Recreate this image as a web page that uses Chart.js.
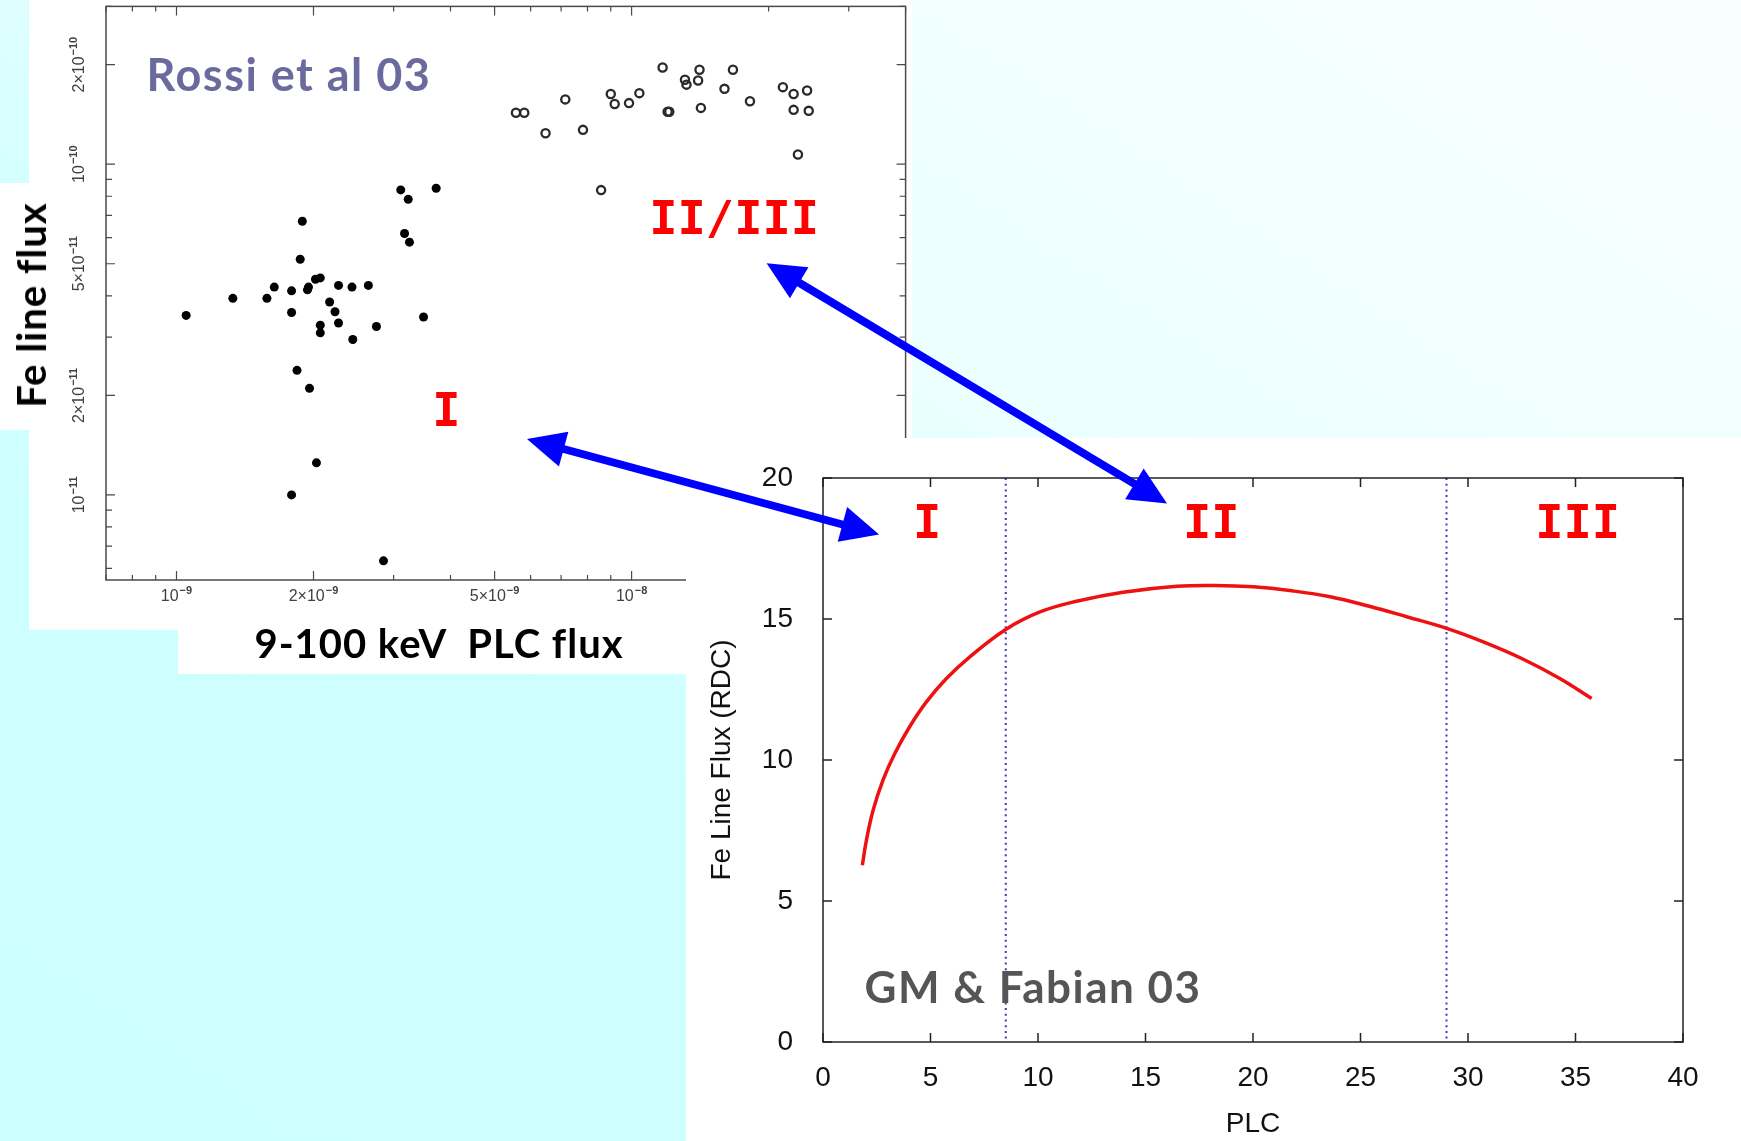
<!DOCTYPE html>
<html>
<head>
<meta charset="utf-8">
<script src="https://cdn.jsdelivr.net/npm/chart.js@4.4.1/dist/chart.umd.min.js"></script>
<style>
  html, body { margin: 0; padding: 0; }
  body {
    width: 1741px; height: 1141px; position: relative; overflow: hidden;
    background: linear-gradient(to bottom left, #f9ffff 0%, #ebffff 40%, #cfffff 62%, #ccffff 100%);
  }
  .panel { position: absolute; background: #fff; }
  .txt {
    position: absolute; white-space: nowrap; font-weight: bold;
    font-family: Lato, 'DejaVu Sans', sans-serif;
    transform: translate(-50%, -50%);
  }
  canvas { position: absolute; }
</style>
</head>
<body>
<div class="panel" style="left:29px;top:0;width:883px;height:630px"></div>
<div class="panel" style="left:0;top:183px;width:40px;height:247px"></div>
<div class="panel" style="left:178px;top:630px;width:508px;height:44px"></div>
<canvas id="rossi" style="left:0;top:0" width="912" height="630"></canvas>
<div class="txt" style="left:289px;top:74px;font-size:45px;letter-spacing:1.5px;color:#6a6a9e">Rossi et al 03</div>
<div class="txt" style="left:31px;top:305px;font-size:40px;letter-spacing:1px;transform:translate(-50%,-50%) rotate(-90deg)">Fe line flux</div>
<div class="txt" style="left:439px;top:643px;font-size:40px;letter-spacing:1px">9-100 keV&nbsp;&nbsp;PLC flux</div>
<div class="panel" style="left:686px;top:438px;width:1055px;height:703px"></div>
<canvas id="model" style="left:686px;top:438px" width="1055" height="703"></canvas>
<div class="txt" style="left:1033px;top:986px;font-size:44px;letter-spacing:1.5px;color:#555">GM &amp; Fabian 03</div>
<canvas id="arrows" style="left:0;top:0;pointer-events:none" width="1741" height="1141"></canvas>
<script>
// --- Rossi et al 03: filled dots (state I) ---
const plcFluxI = [1.05e-9, 1.33e-9, 1.58e-9, 1.64e-9, 1.79e-9, 1.79e-9, 1.89e-9, 1.87e-9, 1.84e-9, 1.96e-9,
                  1.94e-9, 1.95e-9, 2.02e-9, 2.07e-9, 2.17e-9, 2.07e-9, 2.07e-9, 2.23e-9, 2.27e-9, 2.27e-9,
                  2.43e-9, 2.64e-9, 2.44e-9, 2.75e-9, 2.03e-9, 1.79e-9, 2.85e-9, 3.11e-9, 3.23e-9, 3.17e-9,
                  3.25e-9, 3.72e-9, 3.49e-9];
const feFluxI = [3.49e-11, 3.93e-11, 3.93e-11, 4.25e-11, 4.14e-11, 3.56e-11, 6.72e-11, 5.16e-11, 2.38e-11, 2.10e-11,
                 4.17e-11, 4.25e-11, 4.49e-11, 4.53e-11, 3.83e-11, 3.26e-11, 3.09e-11, 3.58e-11, 3.31e-11, 4.30e-11,
                 4.25e-11, 4.30e-11, 2.95e-11, 3.23e-11, 1.25e-11, 1.0e-11, 6.32e-12, 8.36e-11, 7.83e-11, 6.17e-11,
                 5.81e-11, 8.46e-11, 3.45e-11];

// --- Rossi et al 03: open circles (states II/III) ---
const plcFluxII = [5.57e-9, 5.81e-9, 6.47e-9, 7.15e-9, 7.82e-9, 8.57e-9, 9.0e-9, 9.18e-9, 9.87e-9, 1.04e-8,
                   1.17e-8, 1.20e-8, 1.21e-8, 1.31e-8, 1.32e-8, 1.40e-8, 1.41e-8, 1.42e-8, 1.60e-8, 1.67e-8,
                   1.82e-8, 2.15e-8, 2.27e-8, 2.43e-8, 2.27e-8, 2.45e-8, 2.32e-8];
const feFluxII = [1.43e-10, 1.43e-10, 1.24e-10, 1.57e-10, 1.27e-10, 8.35e-11, 1.63e-10, 1.52e-10, 1.53e-10, 1.64e-10,
                  1.96e-10, 1.44e-10, 1.44e-10, 1.80e-10, 1.74e-10, 1.79e-10, 1.93e-10, 1.48e-10, 1.69e-10, 1.93e-10,
                  1.55e-10, 1.71e-10, 1.63e-10, 1.67e-10, 1.46e-10, 1.45e-10, 1.07e-10];

// tick labels: mantissa part and exponent part
const rossiXTicks = [1e-9, 2e-9, 5e-9, 1e-8];
const rossiXBase = ['10', '2\u00D710', '5\u00D710', '10'];
const rossiXExp = ['\u22129', '\u22129', '\u22129', '\u22128'];
const rossiYTicks = [1e-11, 2e-11, 5e-11, 1e-10, 2e-10];
const rossiYBase = ['10', '2\u00D710', '5\u00D710', '10', '2\u00D710'];
const rossiYExp = ['\u221211', '\u221211', '\u221211', '\u221210', '\u221210'];
const rossiStateLabels = [
  { text: 'I', x: 3.92e-9, y: 1.76e-11 },
  { text: 'II/III', x: 1.68e-8, y: 6.68e-11 }
];

// --- GM & Fabian 03: model curve ---
const modelPLC = [1.83, 2.02, 2.33, 2.79, 3.34, 4.03, 4.81, 5.74, 6.83, 8.5, 10.09, 11.79, 13.96,
                  16.46, 18.24, 20.02, 21.81, 23.59, 25.37, 27.15, 29.04, 30.71, 32.5, 34.27, 35.75];
const modelFe = [6.27, 7.16, 8.22, 9.29, 10.23, 11.18, 12.06, 12.89, 13.66, 14.63, 15.25, 15.63, 15.95,
                 16.16, 16.19, 16.14, 16.0, 15.79, 15.46, 15.08, 14.66, 14.19, 13.6, 12.89, 12.18];
const regimeBounds = [8.5, 29];
const modelStateLabels = [
  { text: 'I', x: 4.84, y: 18.3 },
  { text: 'II', x: 18.06, y: 18.3 },
  { text: 'III', x: 35.1, y: 18.3 }
];

// arrows link a point in the Rossi plot to a point in the model plot
const arrowLinks = [
  { from: [5.89e-9, 1.475e-11], to: [2.61, 18.0] },
  { from: [1.98e-8, 5.02e-11], to: [16.0, 19.1] }
];

Chart.defaults.font.family = "'Liberation Sans', Arial, sans-serif";

function logTickValues(min, max) {
  const out = [];
  for (let e = Math.floor(Math.log10(min)); e <= Math.ceil(Math.log10(max)); e++) {
    for (let k = 1; k < 10; k++) {
      const v = k * Math.pow(10, e);
      if (v >= min * 0.999 && v <= max * 1.001) out.push(v);
    }
  }
  return out;
}
const isLabelled = (v, list) => list.some(t => Math.abs(t - v) / t < 1e-6);

// draws "base" with a raised exponent, centred on (cx, cy)
function drawPower(ctx, base, exp, cx, cy) {
  const baseFont = "16px 'Liberation Sans', Arial, sans-serif";
  const expFont = "bold 11px 'Liberation Sans', Arial, sans-serif";
  ctx.font = baseFont;
  const wb = ctx.measureText(base).width;
  ctx.font = expFont;
  const we = ctx.measureText(exp).width;
  const left = cx - (wb + we + 1) / 2;
  ctx.textAlign = 'left';
  ctx.textBaseline = 'middle';
  ctx.font = baseFont;
  ctx.fillText(base, left, cy + 2);
  ctx.font = expFont;
  ctx.fillText(exp, left + wb + 1, cy - 4);
}

const rossiFrame = {
  id: 'rossiFrame',
  beforeDatasetsDraw(chart) {
    const { ctx, chartArea: a, scales: { x, y } } = chart;
    ctx.save();
    ctx.strokeStyle = '#4a4a4a';
    ctx.lineWidth = 1.5;
    ctx.strokeRect(a.left, a.top, a.right - a.left, a.bottom - a.top);
    ctx.lineWidth = 1.2;
    ctx.beginPath();
    logTickValues(x.min, x.max).forEach(v => {
      const px = x.getPixelForValue(v);
      const len = isLabelled(v, rossiXTicks) ? 9 : 5;
      ctx.moveTo(px, a.bottom); ctx.lineTo(px, a.bottom - len);
      ctx.moveTo(px, a.top); ctx.lineTo(px, a.top + len);
    });
    logTickValues(y.min, y.max).forEach(v => {
      const py = y.getPixelForValue(v);
      const len = isLabelled(v, rossiYTicks) ? 9 : 6;
      ctx.moveTo(a.left, py); ctx.lineTo(a.left + len, py);
      ctx.moveTo(a.right, py); ctx.lineTo(a.right - len, py);
    });
    ctx.stroke();

    ctx.fillStyle = '#404040';
    rossiXTicks.forEach((v, i) => drawPower(ctx, rossiXBase[i], rossiXExp[i], x.getPixelForValue(v), a.bottom + 15));
    rossiYTicks.forEach((v, i) => {
      ctx.save();
      ctx.translate(a.left - 28, y.getPixelForValue(v));
      ctx.rotate(-Math.PI / 2);
      drawPower(ctx, rossiYBase[i], rossiYExp[i], 0, 0);
      ctx.restore();
    });
    ctx.restore();
  },
  afterDatasetsDraw(chart) {
    const { ctx, scales: { x, y } } = chart;
    ctx.save();
    ctx.fillStyle = '#ff0000';
    ctx.font = "bold 47px 'DejaVu Sans Mono', monospace";
    ctx.textAlign = 'center';
    ctx.textBaseline = 'middle';
    rossiStateLabels.forEach(l => ctx.fillText(l.text, x.getPixelForValue(l.x), y.getPixelForValue(l.y)));
    ctx.restore();
  }
};

const rossiChart = new Chart(document.getElementById('rossi'), {
  type: 'scatter',
  data: {
    datasets: [
      {
        label: 'I',
        data: plcFluxI.map((v, i) => ({ x: v, y: feFluxI[i] })),
        pointRadius: 4.5,
        pointBackgroundColor: '#000',
        pointBorderColor: '#000',
        pointBorderWidth: 0
      },
      {
        label: 'II/III',
        data: plcFluxII.map((v, i) => ({ x: v, y: feFluxII[i] })),
        pointRadius: 4.1,
        pointBackgroundColor: 'rgba(0,0,0,0)',
        pointBorderColor: '#2a2a2a',
        pointBorderWidth: 2.3
      }
    ]
  },
  options: {
    responsive: false,
    animation: false,
    events: [],
    layout: { padding: { left: 106, top: 6, right: 5, bottom: 50 } },
    plugins: { legend: { display: false }, tooltip: { enabled: false } },
    scales: {
      x: { type: 'logarithmic', min: 7.06e-10, max: 4.0e-8, display: false },
      y: { type: 'logarithmic', min: 5.53e-12, max: 3.0e-10, display: false }
    }
  },
  plugins: [rossiFrame]
});

const modelFrame = {
  id: 'modelFrame',
  beforeDatasetsDraw(chart) {
    const { ctx, chartArea: a, scales: { x } } = chart;
    ctx.save();
    ctx.strokeStyle = '#3b3bbf';
    ctx.lineWidth = 2;
    ctx.setLineDash([2, 3.7]);
    regimeBounds.forEach(v => {
      const px = x.getPixelForValue(v);
      ctx.beginPath();
      ctx.moveTo(px, a.top); ctx.lineTo(px, a.bottom);
      ctx.stroke();
    });
    ctx.restore();
  },
  afterDatasetsDraw(chart) {
    const { ctx, chartArea: a, scales: { x, y } } = chart;
    ctx.save();
    ctx.strokeStyle = '#222';
    ctx.lineWidth = 1.5;
    ctx.strokeRect(a.left, a.top, a.right - a.left, a.bottom - a.top);
    ctx.beginPath();
    x.ticks.forEach(t => {
      const px = x.getPixelForValue(t.value);
      ctx.moveTo(px, a.bottom); ctx.lineTo(px, a.bottom - 9);
      ctx.moveTo(px, a.top); ctx.lineTo(px, a.top + 9);
    });
    y.ticks.forEach(t => {
      const py = y.getPixelForValue(t.value);
      ctx.moveTo(a.left, py); ctx.lineTo(a.left + 9, py);
      ctx.moveTo(a.right, py); ctx.lineTo(a.right - 9, py);
    });
    ctx.stroke();

    ctx.fillStyle = '#ff0000';
    ctx.font = "bold 47px 'DejaVu Sans Mono', monospace";
    ctx.textAlign = 'center';
    ctx.textBaseline = 'middle';
    modelStateLabels.forEach(l => ctx.fillText(l.text, x.getPixelForValue(l.x), y.getPixelForValue(l.y)));
    ctx.restore();
  }
};

const axisFont = { size: 28 };
const modelChart = new Chart(document.getElementById('model'), {
  type: 'scatter',
  data: {
    datasets: [{
      data: modelPLC.map((v, i) => ({ x: v, y: modelFe[i] })),
      showLine: true,
      borderColor: '#ee1111',
      borderWidth: 3.5,
      pointRadius: 0,
      tension: 0.4,
      fill: false
    }]
  },
  options: {
    responsive: false,
    animation: false,
    events: [],
    layout: { padding: { left: 0, right: 58, top: 40, bottom: 0 } },
    plugins: { legend: { display: false }, tooltip: { enabled: false } },
    scales: {
      x: {
        type: 'linear', min: 0, max: 40,
        ticks: { stepSize: 5, font: axisFont, color: '#111', padding: 11, maxRotation: 0 },
        grid: { display: false },
        border: { display: false },
        title: { display: true, text: 'PLC', font: axisFont, color: '#111', padding: 0 },
        afterFit: s => { s.height = 99; }
      },
      y: {
        type: 'linear', min: 0, max: 20,
        ticks: { stepSize: 5, font: axisFont, color: '#111', padding: 22 },
        grid: { display: false },
        border: { display: false },
        title: { display: true, text: 'Fe Line Flux (RDC)', font: axisFont, color: '#111', padding: { top: 19, bottom: 0 } },
        afterFit: s => { s.width = 137; }
      }
    }
  },
  plugins: [modelFrame]
});

// double-headed arrows joining the two panels
function drawDoubleArrow(ctx, x1, y1, x2, y2) {
  const ang = Math.atan2(y2 - y1, x2 - x1);
  const headLen = 38, headHalf = 18;
  const cos = Math.cos(ang), sin = Math.sin(ang);
  ctx.beginPath();
  ctx.moveTo(x1 + cos * (headLen - 2), y1 + sin * (headLen - 2));
  ctx.lineTo(x2 - cos * (headLen - 2), y2 - sin * (headLen - 2));
  ctx.stroke();
  [[x1, y1, 1], [x2, y2, -1]].forEach(([tx, ty, d]) => {
    const bx = tx + d * cos * headLen, by = ty + d * sin * headLen;
    ctx.beginPath();
    ctx.moveTo(tx, ty);
    ctx.lineTo(bx - sin * headHalf, by + cos * headHalf);
    ctx.lineTo(bx + sin * headHalf, by - cos * headHalf);
    ctx.closePath();
    ctx.fill();
  });
}

const arrowCanvas = document.getElementById('arrows');
const actx = arrowCanvas.getContext('2d');
actx.strokeStyle = '#0000ff';
actx.fillStyle = '#0000ff';
actx.lineWidth = 8;
const rc = rossiChart.canvas, mc = modelChart.canvas;
arrowLinks.forEach(link => {
  const x1 = rc.offsetLeft + rossiChart.scales.x.getPixelForValue(link.from[0]);
  const y1 = rc.offsetTop + rossiChart.scales.y.getPixelForValue(link.from[1]);
  const x2 = mc.offsetLeft + modelChart.scales.x.getPixelForValue(link.to[0]);
  const y2 = mc.offsetTop + modelChart.scales.y.getPixelForValue(link.to[1]);
  drawDoubleArrow(actx, x1, y1, x2, y2);
});
</script>
</body>
</html>
